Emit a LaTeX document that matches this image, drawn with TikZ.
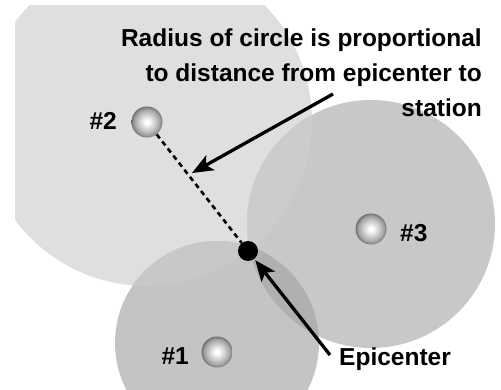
\documentclass[tikz,border=0pt]{standalone}
\usepackage{fontspec}
\setmainfont{Liberation Sans}
\usetikzlibrary{arrows.meta}
\definecolor{cBig}{gray}{0.875}
\definecolor{cThree}{gray}{0.785}
\definecolor{cOne}{gray}{0.77}
\definecolor{cOneThree}{gray}{0.69}
\definecolor{cBigThree}{gray}{0.80}
\definecolor{cBigOne}{gray}{0.785}
\pgfdeclareradialshading{sphereshade}{\pgfpoint{0bp}{0bp}}{%
  color(0bp)=(white); color(3bp)=(white); color(13bp)=(gray!40); color(21bp)=(gray!75); color(24bp)=(gray); color(25bp)=(gray!85!black); color(50bp)=(gray!85!black)}
\tikzset{
  lbl/.style={font=\fontsize{24.5}{35}\selectfont\bfseries, inner sep=0pt},
  station/.style={circle, minimum size=31pt, inner sep=0pt, shading=sphereshade},
  epidot/.style={circle, fill=black, minimum size=20pt, inner sep=0pt},
  dashline/.style={line width=2.6pt, dash pattern=on 5pt off 4pt},
  bigarrow/.style={line width=3.3pt, -{Stealth[length=21pt,width=17pt,inset=5pt]}}
}
\begin{document}
\begin{tikzpicture}[x=1pt,y=-1pt]
\useasboundingbox (0,0) rectangle (501,390);
\begin{scope}
  \clip (15,6) rectangle (501,390);
  \fill[cBig] (147,121) circle (165pt);
  \fill[cThree] (371,224) circle (124pt);
  \fill[cOne] (217,343) circle (102pt);
  \begin{scope}
    \clip (147,121) circle (165pt);
    \fill[cBigThree] (371,224) circle (124pt);
    \fill[cBigOne] (217,343) circle (102pt);
  \end{scope}
  \begin{scope}
    \clip (371,224) circle (124pt);
    \fill[cOneThree] (217,343) circle (102pt);
  \end{scope}
\end{scope}
\node[station] (st2) at (147,122) {};
\node[station] (st3) at (371,229) {};
\node[station] (st1) at (217,352) {};
\node[epidot] (epi) at (248,251) {};
\draw[dashline] (st2) -- (epi);
\node[lbl, anchor=base east] (l2) at (117,130) {\#2};
\node[lbl, anchor=base west] (l3) at (400,242) {\#3};
\node[lbl, anchor=base east] (l1) at (189,364) {\#1};
\node[lbl, anchor=base west] (lepi) at (339,365) {Epicenter};
\node[lbl, anchor=base east, align=right] (radius) at (482,117) {Radius of circle is proportional\\to distance from epicenter to\\station};
\coordinate (a1) at (333,94);
\coordinate (t1) at (192,173);
\coordinate (a2) at (330,355);
\draw[bigarrow] (a1) -- (t1);
\draw[bigarrow, shorten >=1.5pt] (a2) -- (epi);
\end{tikzpicture}
\end{document}
